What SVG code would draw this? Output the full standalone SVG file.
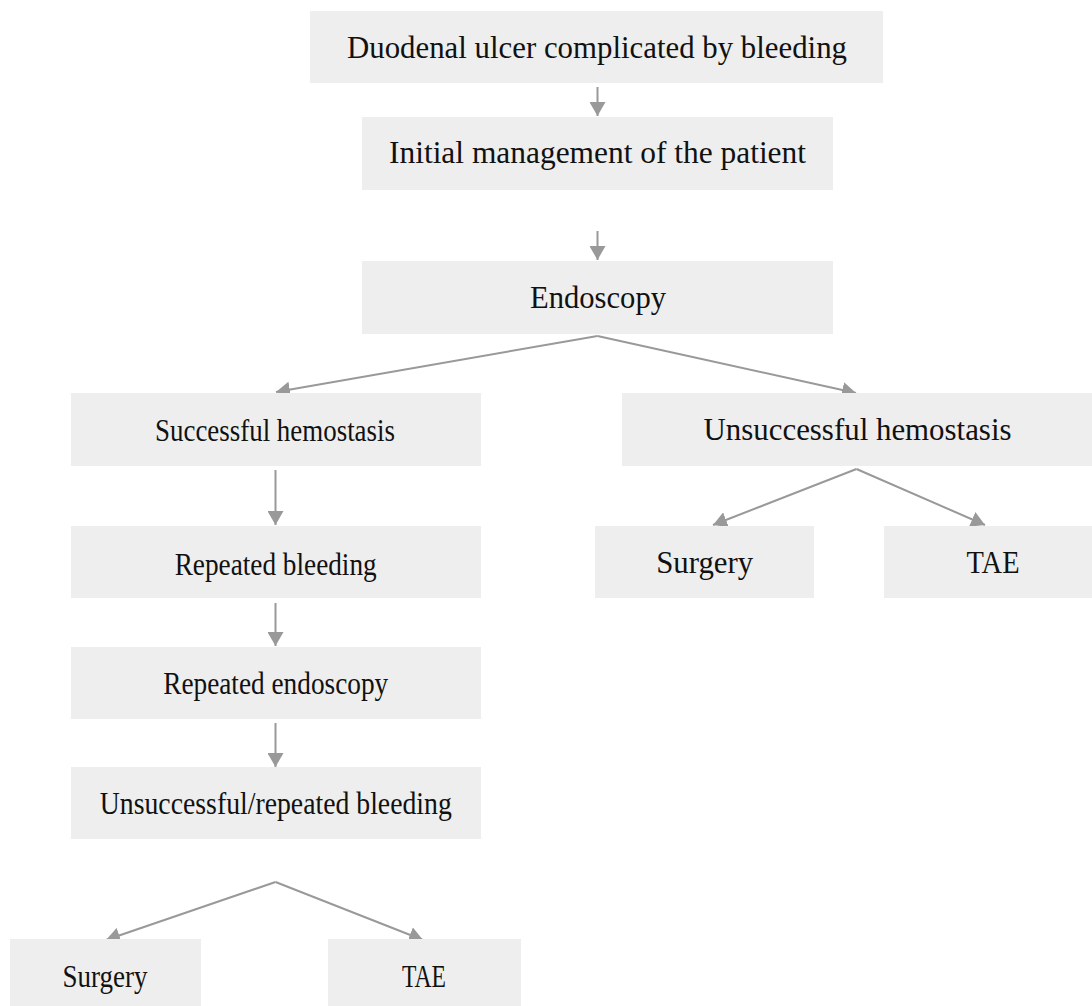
<svg xmlns="http://www.w3.org/2000/svg" width="1092" height="1006" viewBox="0 0 1092 1006">
<style>
.box{fill:#eeeeee;}
.lbl{font-family:"Liberation Serif","Times New Roman",serif;font-size:31px;fill:#111111;text-anchor:middle;}
.con{stroke:#999999;stroke-width:2;fill:none;marker-end:url(#arr);}
</style>
<defs>
<marker id="arr" markerUnits="userSpaceOnUse" markerWidth="15" markerHeight="16" refX="14" refY="8" orient="auto" viewBox="0 0 15 16">
<path d="M0,0 L14,8 L0,16 z" fill="#999999"/>
</marker>
</defs>
<rect width="1092" height="1006" fill="#ffffff"/>
<g id="connectors">
<line class="con" x1="597.5" y1="87" x2="597.5" y2="116"/>
<line class="con" x1="597.5" y1="231" x2="597.5" y2="260"/>
<polyline class="con" points="597.5,336 276,392"/>
<polyline class="con" points="597.5,336 856,393"/>
<line class="con" x1="275.5" y1="470" x2="275.5" y2="525"/>
<line class="con" x1="275.5" y1="603" x2="275.5" y2="646"/>
<line class="con" x1="275.5" y1="723" x2="275.5" y2="767"/>
<line class="con" x1="275.5" y1="882" x2="106" y2="940"/>
<line class="con" x1="275.5" y1="882" x2="423" y2="940"/>
<line class="con" x1="856.5" y1="469" x2="713" y2="525"/>
<line class="con" x1="856.5" y1="469" x2="985" y2="525"/>
</g>
<g id="n1"><rect class="box" x="310" y="11" width="573" height="72"/><text class="lbl" x="597" y="58" textLength="500" lengthAdjust="spacingAndGlyphs">Duodenal ulcer complicated by bleeding</text></g>
<g id="n2"><rect class="box" x="362" y="117" width="471" height="73"/><text class="lbl" x="597.5" y="163" textLength="417" lengthAdjust="spacingAndGlyphs">Initial management of the patient</text></g>
<g id="n3"><rect class="box" x="362" y="261" width="471" height="73"/><text class="lbl" x="598" y="308" textLength="136" lengthAdjust="spacingAndGlyphs">Endoscopy</text></g>
<g id="n4"><rect class="box" x="71" y="393" width="410" height="73"/><text class="lbl" x="275" y="441" textLength="240" lengthAdjust="spacingAndGlyphs">Successful hemostasis</text></g>
<g id="n5"><rect class="box" x="71" y="526" width="410" height="72"/><text class="lbl" x="275.7" y="575" textLength="202" lengthAdjust="spacingAndGlyphs">Repeated bleeding</text></g>
<g id="n6"><rect class="box" x="71" y="647" width="410" height="72"/><text class="lbl" x="275.7" y="694" textLength="225" lengthAdjust="spacingAndGlyphs">Repeated endoscopy</text></g>
<g id="n7"><rect class="box" x="71" y="767" width="410" height="72"/><text class="lbl" x="275.8" y="814" textLength="352" lengthAdjust="spacingAndGlyphs">Unsuccessful/repeated bleeding</text></g>
<g id="n8"><rect class="box" x="10" y="939" width="191" height="67"/><text class="lbl" x="105" y="987" textLength="85" lengthAdjust="spacingAndGlyphs">Surgery</text></g>
<g id="n9"><rect class="box" x="328" y="939" width="193" height="67"/><text class="lbl" x="424" y="987" textLength="44" lengthAdjust="spacingAndGlyphs">TAE</text></g>
<g id="n10"><rect class="box" x="622" y="393" width="470" height="73"/><text class="lbl" x="857.5" y="440" textLength="308" lengthAdjust="spacingAndGlyphs">Unsuccessful hemostasis</text></g>
<g id="n11"><rect class="box" x="595" y="526" width="219" height="72"/><text class="lbl" x="704.7" y="573" textLength="97" lengthAdjust="spacingAndGlyphs">Surgery</text></g>
<g id="n12"><rect class="box" x="884" y="526" width="208" height="72"/><text class="lbl" x="993" y="573" textLength="53" lengthAdjust="spacingAndGlyphs">TAE</text></g>
</svg>
